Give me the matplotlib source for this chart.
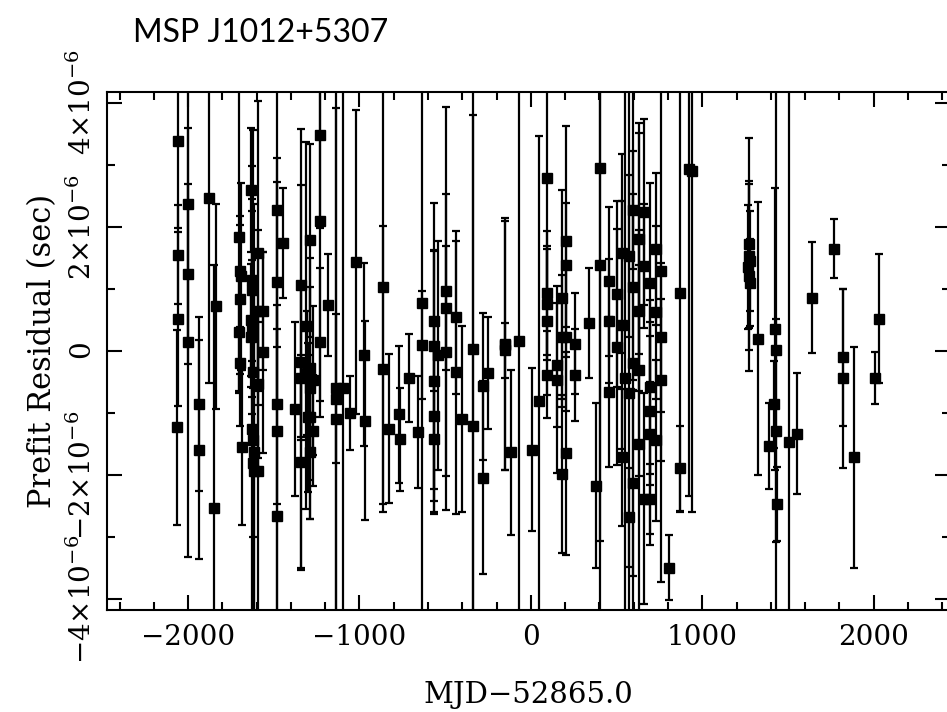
import matplotlib
matplotlib.use('Agg')
import matplotlib.pyplot as plt
from matplotlib.ticker import MultipleLocator, FixedLocator, FixedFormatter
import numpy as np

# timing residuals: MJD-52865.0, residual (microsec), uncertainty (microsec)
mjd = [-2060, -2060, -2058, -2062, -2000, -2000, -2002, -1936, -1936, -1879,
       -1850, -1837, -1705, -1695, -1690, -1700, -1705, -1700, -1687, -1633,
       -1628, -1625, -1630, -1625, -1630, -1620, -1625, -1620, -1618, -1622,
       -1615, -1592, -1592, -1590, -1592, -1563, -1560, -1481, -1481, -1483,
       -1480, -1479, -1446, -1376, -1341, -1341, -1343, -1341, -1312, -1305,
       -1300, -1289, -1289, -1290, -1287, -1288, -1271, -1271, -1230, -1230,
       -1228, -1184, -1137, -1137, -1135, -1096, -1055, -1020, -974, -970,
       -863, -863, -828, -772, -766, -711, -659, -636, -634, -566,
       -566, -568, -566, -564, -542, -496, -494, -498, -437, -437,
       -402, -338, -338, -280, -280, -251, -152, -150, -152, -117,
       -70, 6, 47, 93, 93, 93, 93, 95, 152, 152,
       181, 181, 181, 204, 204, 206, 204, 257, 257, 338,
       379, 402, 405, 455, 455, 457, 501, 501, 531, 531,
       531, 548, 571, 571, 571, 595, 595, 597, 595, 630,
       630, 632, 630, 659, 659, 661, 694, 694, 696, 694,
       694, 729, 729, 729, 758, 758, 758, 805, 869, 869,
       921, 940, 1270, 1275, 1280, 1268, 1272, 1276, 1324, 1388,
       1425, 1430, 1420, 1432, 1435, 1504, 1551, 1638, 1767, 1819,
       1822, 1883, 2006, 2029]

resid = [3.38, 1.55, 0.51, -1.23, 2.36, 1.24, 0.14, -0.86, -1.59, 2.46,
         -2.52, 0.72, 1.83, 1.28, 1.20, 0.83, 0.30, -0.20, -1.55, 2.59,
         1.14, 0.98, 0.50, 0.36, 0.22, -0.34, -1.25, -1.44, -1.63, -1.80,
         -1.93, 1.58, 0.65, -0.53, -1.93, 0.65, -0.02, 2.27, 1.11, -0.86,
         -1.28, -2.65, 1.74, -0.94, 1.07, -0.18, -0.43, -1.78, 0.41, -0.36,
         -1.07, 1.78, -0.27, -0.60, -1.07, -1.63, -0.47, -1.28, 3.48, 2.10,
         0.14, 0.74, -0.60, -0.77, -1.09, -0.60, -1.00, 1.43, -0.06, -1.12,
         1.03, -0.29, -1.25, -1.02, -1.42, -0.43, -1.31, 0.77, 0.10, 0.08,
         0.49, -0.49, -1.05, -1.42, -0.07, 0.96, 0.69, -0.02, 0.54, -0.34,
         -1.09, 0.04, -1.20, -0.57, -2.04, -0.36, 0.11, 0.01, 0.09, -1.63,
         0.16, -1.59, -0.81, 2.79, 0.94, 0.75, 0.49, -0.38, -0.23, -0.46,
         0.85, 0.22, -1.98, 1.77, 1.38, 0.23, -1.65, 0.12, -0.38, 0.45,
         -2.17, 2.94, 1.38, 1.12, 0.48, -0.66, 0.92, 0.06, 1.57, 0.42,
         -1.71, -0.44, 1.53, -0.68, -2.68, 2.27, 1.03, -0.20, -2.13, 1.81,
         0.65, -0.31, -1.49, 2.24, 1.37, -2.38, 1.10, -0.58, -0.96, -1.33,
         -2.38, 1.64, 0.62, -1.44, 1.28, 0.22, -0.47, -3.49, 0.94, -1.89,
         2.93, 2.90, 1.72, 1.53, 1.45, 1.35, 1.20, 1.10, 0.20, -1.53,
         0.36, 0.01, -0.86, -1.28, -2.46, -1.47, -1.33, 0.86, 1.65, -0.10,
         -0.44, -1.71, -0.44, 0.52]

err = [1.40, 0.80, 1.40, 1.57, 2.20, 1.45, 3.45, 1.40, 1.76, 2.98,
       3.90, 1.65, 2.50, 0.90, 1.50, 1.20, 0.95, 1.00, 1.25, 1.00,
       1.30, 2.00, 0.90, 1.10, 0.80, 1.50, 3.50, 5.00, 4.00, 1.20,
       3.00, 2.45, 1.30, 1.20, 2.40, 0.95, 1.62, 2.20, 2.00, 1.60,
       4.00, 3.00, 0.88, 1.40, 2.50, 1.20, 3.10, 1.72, 2.95, 1.00,
       1.20, 1.55, 1.30, 2.10, 1.00, 1.07, 1.20, 0.90, 1.50, 2.90,
       1.20, 0.82, 1.20, 5.00, 5.00, 5.00, 0.60, 2.45, 1.47, 1.60,
       3.50, 2.30, 1.20, 1.10, 0.83, 0.71, 0.90, 5.00, 0.87, 2.30,
       1.14, 2.10, 1.57, 1.00, 1.84, 2.97, 1.00, 2.54, 1.23, 2.28,
       1.50, 5.00, 5.00, 1.18, 1.55, 0.90, 2.03, 0.44, 2.00, 1.33,
       5.00, 1.31, 4.27, 2.00, 1.00, 0.90, 1.20, 0.70, 1.00, 1.50,
       1.75, 1.00, 1.27, 1.86, 1.00, 1.20, 1.63, 0.82, 0.74, 0.89,
       1.33, 6.00, 6.00, 1.20, 1.00, 1.20, 1.50, 1.90, 1.60, 2.00,
       1.10, 5.00, 1.30, 5.00, 0.80, 0.95, 1.50, 5.00, 1.50, 1.86,
       1.30, 1.70, 5.00, 1.50, 1.00, 1.70, 1.60, 1.40, 1.20, 1.80,
       0.56, 1.22, 1.40, 1.30, 5.00, 1.20, 1.30, 0.52, 3.54, 0.68,
       5.26, 5.50, 1.71, 1.16, 0.80, 1.00, 1.53, 0.70, 2.20, 0.69,
       2.27, 5.00, 0.70, 1.80, 0.60, 6.00, 0.97, 0.90, 0.47, 1.10,
       1.44, 1.78, 0.42, 1.04]

ytick_vals = [-4e-6, -2e-6, 0, 2e-6, 4e-6]
ytick_labels = [r'$-4{\times}10^{-6}$', r'$-2{\times}10^{-6}$', r'$0$',
                r'$2{\times}10^{-6}$', r'$4{\times}10^{-6}$']
xtick_vals = [-2000, -1000, 0, 1000, 2000]

plt.rcParams['font.family'] = ['DejaVu Serif']
plt.rcParams['mathtext.fontset'] = 'dejavuserif'

W, H = 947, 712
fig = plt.figure(figsize=(W / 100, H / 100), dpi=100)
ax = fig.add_axes([107 / W, 1 - 610 / H, (950 - 107) / W, (610 - 92) / H])

t = np.array(mjd, dtype=float)
r = np.array(resid) * 1e-6
e = np.array(err) * 1e-6
ax.errorbar(t, r, yerr=e, fmt='s', color='k', ms=6.5, mec='k', mfc='k',
            elinewidth=1.6, capsize=3, capthick=1.6, zorder=3)

ax.set_xlim(-2473, 2445)
ax.set_ylim(-4.17e-6, 4.17e-6)

ax.xaxis.set_major_locator(FixedLocator(xtick_vals))
ax.xaxis.set_minor_locator(MultipleLocator(200))
ax.set_xticklabels([str(v).replace('-', '\u2212') for v in xtick_vals])
ax.yaxis.set_major_locator(FixedLocator(ytick_vals))
ax.yaxis.set_major_formatter(FixedFormatter(ytick_labels))
ax.yaxis.set_minor_locator(MultipleLocator(1e-6))

ax.tick_params(which='both', direction='in', top=True, right=True, width=1.5)
ax.tick_params(which='major', length=11)
ax.tick_params(which='minor', length=5.5)
ax.tick_params(axis='x', labelsize=20, pad=10)
ax.tick_params(axis='y', labelsize=20, pad=7, labelrotation=90)
for lab in ax.get_yticklabels():
    lab.set_va('center')

for s in ax.spines.values():
    s.set_linewidth(1.5)

ax.set_xlabel('MJD\u221252865.0', fontsize=21, labelpad=22)
ax.set_ylabel('Prefit Residual (sec)', fontsize=22, labelpad=7)

fig.text(133 / W, 1 - 42 / H, 'MSP J1012+5307', family='Lato', fontsize=23,
         va='baseline', ha='left')

fig.savefig('out.png', dpi=100, facecolor='white')
